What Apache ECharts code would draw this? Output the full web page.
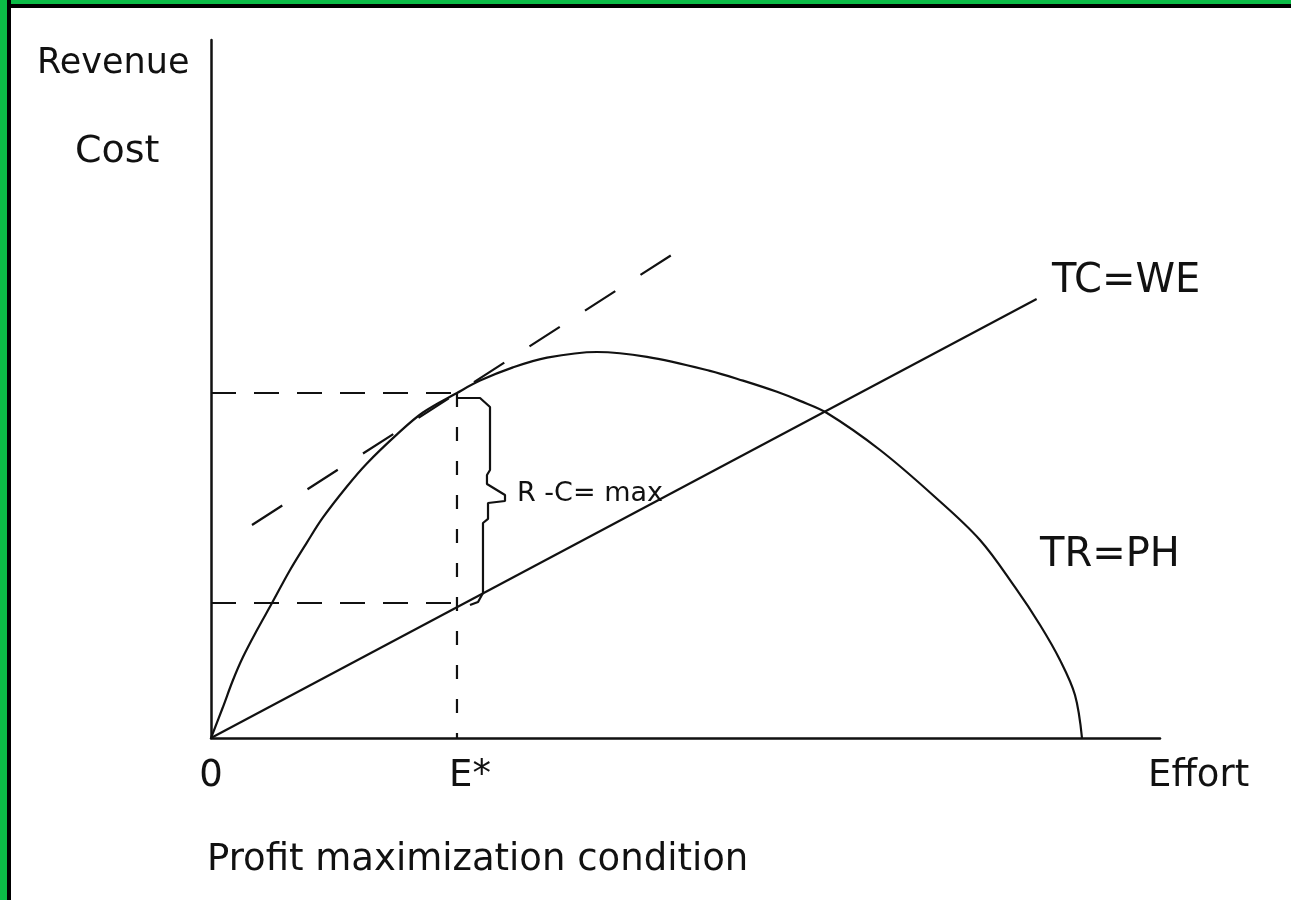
<!DOCTYPE html>
<html>
<head>
<meta charset="utf-8">
<script src="https://cdn.jsdelivr.net/npm/echarts@6/dist/echarts.min.js"></script>
<style>
html,body{margin:0;padding:0;background:#fff;}
#chart{width:1291px;height:900px;}
</style>
</head>
<body>
<div id="chart"></div>
<script>
// Total revenue curve TR=PH (effort, revenue)
const trEffort  = [0, 1.26, 2.32, 3.37, 4.85, 6.43, 8.3, 10.1, 11.8, 14.3, 16.4, 19.6, 22.3, 25.92, 28.35, 31.82, 35.41, 40.67, 45.94, 52.58, 56.06, 59.64, 62.07, 64.91, 70.5, 76.29, 81.03, 84.72, 87.36, 89.46, 91.04, 91.78];
const trRevenue = [0, 4.44, 8.31, 11.6, 15.47, 19.34, 24.0, 28.0, 31.6, 36.0, 39.3, 43.5, 46.6, 49.43, 51.2, 53.1, 54.5, 55.3, 54.6, 52.6, 51.2, 49.6, 48.3, 46.56, 41.26, 34.53, 28.37, 21.6, 16.19, 11.17, 6.16, 0];
// Total cost line TC=WE
const tcEffort = [0, 87.0];
const tcCost   = [0, 62.9];
// Tangent (slope equal to TC) at E*
const tangentEffort = [4.32, 50.16];
const tangentValue  = [30.52, 70.63];
// Optimum
const eStar = 25.92;
const rStar = 49.43;
const cStar = 19.34;
// Brace showing R - C
const braceEffort = [25.92, 28.35, 29.4, 29.4, 29.08, 29.08, 30.98, 30.98, 29.19, 29.19, 28.66, 28.66, 28.14, 27.29];
const braceValue  = [48.71, 48.71, 47.42, 38.4, 37.68, 36.39, 34.81, 33.95, 33.67, 31.38, 30.8, 20.77, 19.48, 19.05];
// Tick labels
const xTickValues = [0, eStar];
const xTickLabels = ['0', 'E*'];

const zip = (a, b) => a.map((v, i) => [v, b[i]]);
const FONT = 'DejaVu Sans';
const INK = '#111';
const LW = 2.2;

const chart = echarts.init(document.getElementById('chart'), null, {renderer: 'canvas'});

function txt(text, x, y, size, align) {
  return {
    type: 'text',
    style: {text: text, x: x, y: y, fill: INK, font: size + 'px "' + FONT + '"',
            textAlign: align || 'left', textVerticalAlign: 'middle'}
  };
}

const option = {
  backgroundColor: '#fff',
  animation: false,
  grid: {left: 211, top: 40, width: 949, height: 698, containLabel: false},
  xAxis: {
    type: 'value', min: 0, max: 100,
    splitLine: {show: false},
    axisTick: {show: false},
    axisLine: {lineStyle: {color: INK, width: 2.5}},
    axisLabel: {
      customValues: xTickValues,
      margin: 20,
      color: INK,
      fontFamily: FONT,
      fontSize: 37,
      formatter: function (v) {
        const i = xTickValues.indexOf(v);
        const t = i >= 0 ? xTickLabels[i] : '';
        return i === 1 ? '{b|' + t + '}' : '{a|' + t + '}';
      },
      rich: {
        a: {fontFamily: FONT, fontSize: 37, color: INK},
        b: {fontFamily: FONT, fontSize: 37, color: INK, padding: [0, 0, 0, 26]}
      }
    }
  },
  yAxis: {
    type: 'value', min: 0, max: 100,
    splitLine: {show: false},
    axisTick: {show: false},
    axisLabel: {show: false},
    axisLine: {show: true, lineStyle: {color: INK, width: 2.5}}
  },
  series: [
    {
      name: 'TR=PH', type: 'line', data: zip(trEffort, trRevenue),
      smooth: 0.35, symbol: 'none',
      lineStyle: {color: INK, width: LW}
    },
    {
      name: 'TC=WE', type: 'line', data: zip(tcEffort, tcCost),
      symbol: 'none', lineStyle: {color: INK, width: LW}
    },
    {
      name: 'tangent', type: 'line', data: zip(tangentEffort, tangentValue),
      symbol: 'none', lineStyle: {color: INK, width: LW, type: [36, 30]}
    },
    {
      name: 'R*', type: 'line', data: [[0, rStar], [eStar, rStar]],
      symbol: 'none', lineStyle: {color: INK, width: LW, type: [25, 18]}
    },
    {
      name: 'C*', type: 'line', data: [[0, cStar], [eStar, cStar]],
      symbol: 'none', lineStyle: {color: INK, width: LW, type: [25, 18]}
    },
    {
      name: 'E*', type: 'line', data: [[eStar, rStar], [eStar, 0]],
      symbol: 'none', lineStyle: {color: INK, width: LW, type: [14, 20]}
    },
    {
      name: 'brace', type: 'line', data: zip(braceEffort, braceValue),
      symbol: 'none', lineStyle: {color: INK, width: LW}
    }
  ],
  graphic: [
    {type: 'rect', shape: {x: 0, y: 0, width: 1291, height: 8}, style: {fill: '#000'}, z: 100},
    {type: 'rect', shape: {x: 0, y: 0, width: 1291, height: 4}, style: {fill: '#0cbc47'}, z: 101},
    {type: 'rect', shape: {x: 0, y: 0, width: 11, height: 900}, style: {fill: '#000'}, z: 102},
    {type: 'rect', shape: {x: 0, y: 0, width: 7, height: 900}, style: {fill: '#0cbc47'}, z: 103},
    txt('Revenue', 37, 64, 35),
    txt('Cost', 75, 152, 38),
    txt('Effort', 1148, 776, 37),
    txt('TC=WE', 1052, 282, 40),
    txt('TR=PH', 1040, 556, 40),
    txt('R -C= max', 517, 494, 27),
    txt('Profit maximization condition', 207, 860, 37)
  ]
};
chart.setOption(option);
</script>
</body>
</html>
